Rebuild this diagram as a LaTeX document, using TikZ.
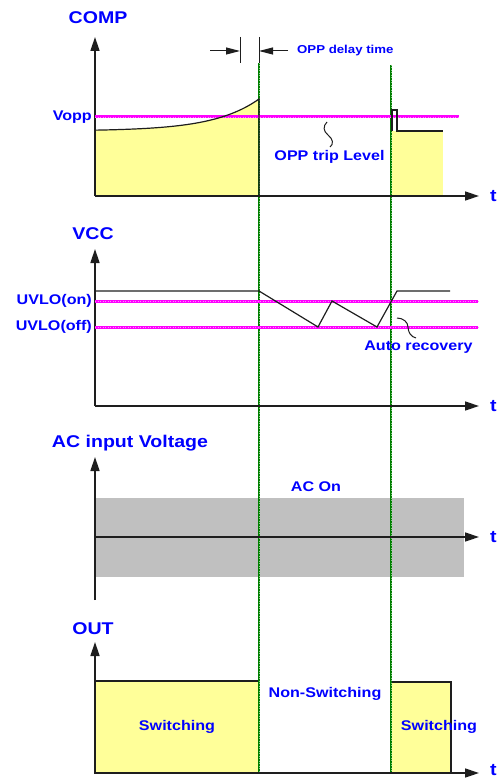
\documentclass[tikz,border=0pt]{standalone}
\usepackage{fontspec}
\setmainfont{Liberation Sans}[FakeStretch=1.15]
\usepackage{xcolor}
\usepackage{tikz}
\usetikzlibrary{arrows.meta}
\definecolor{lblblue}{RGB}{0,0,255}
\definecolor{levelmag}{RGB}{255,0,255}
\definecolor{markgreen}{RGB}{0,128,0}
\definecolor{swyellow}{RGB}{255,255,153}
\definecolor{acgray}{RGB}{192,192,192}
\definecolor{sigcol}{RGB}{30,30,30}

\tikzset{
  axis/.style={line width=1.5pt, sigcol, -{Triangle[length=14pt,width=9pt]}},
  thrline/.style={levelmag, line width=3pt,
    postaction={draw, levelmag!45, line width=0.8pt, dash pattern=on 1pt off 1.5pt}},
  marker/.style={markgreen, line width=2.2pt,
    postaction={draw, markgreen!45, line width=0.6pt, dash pattern=on 1pt off 1.5pt}},
  sig/.style={line width=1.2pt, sigcol},
  biglbl/.style={lblblue, inner sep=0pt, font=\fontsize{17}{20}\selectfont\bfseries},
  lbl/.style={lblblue, inner sep=0pt, font=\fontsize{14}{16}\selectfont\bfseries},
  smalllbl/.style={lblblue, inner sep=0pt, font=\fontsize{11.5}{13}\selectfont\bfseries},
}

\begin{document}
\begin{tikzpicture}[x=1pt, y=-1pt]
  \useasboundingbox (0,0) rectangle (497,778);

  %% OUT boxes (under the markers)
  \filldraw[swyellow, draw=sigcol, line width=1.2pt] (95,681) rectangle (259,773);
  \filldraw[swyellow, draw=sigcol, line width=1.2pt] (391,682) rectangle (451,773);

  %% AC band
  \fill[acgray] (95,498) rectangle (464,577);

  %% COMP fills
  \fill[swyellow] (95,196)
    -- plot[domain=95:259, samples=60] (\x, {131-32*exp((\x-259)/45)})
    -- (259,196) -- cycle;
  \fill[swyellow] (392,196) rectangle (443,131);

  %% green markers
  \draw[marker] (259,63) -- (259,773);
  \draw[marker] (391,65) -- (391,773);

  %% COMP
  \node[biglbl] (comp) at (98,18) {COMP};
  \draw[axis] (95,196) -- (95,37);
  \draw[axis] (95,196) -- (479,196);
  \node[biglbl, anchor=west] (tcomp) at (490,196) {t};
  \draw[thrline] (95,117) -- (459,117);
  \node[lbl, anchor=east] (vopp) at (92,117) {Vopp};
  \draw[sig] plot[domain=95:259, samples=60] (\x, {131-32*exp((\x-259)/45)})
    -- (259,196);
  \draw[sig] (392,131) -- (392,110) -- (397,110) -- (397,131) -- (443,131);

  \draw[sig, line width=1pt] (240,37) -- (240,63);
  \draw[sig, line width=1pt] (259,37) -- (259,63);
  \draw[sig, line width=1pt, -{Triangle[length=14pt,width=7pt]}] (210,51) -- (240,51);
  \draw[sig, line width=1pt, -{Triangle[length=14pt,width=7pt]}] (288,51) -- (259,51);
  \node[smalllbl, anchor=west] (delay) at (297,51) {OPP delay time};

  \node[lbl] (trip) at (329.5,157) {OPP trip Level};
  \draw[sig, line width=1pt] (327,122) .. controls (323,126) and (323,131) .. (328,135)
    .. controls (333,139) and (334,144) .. (330,147);

  %% VCC
  \node[biglbl] (vcc) at (93,234) {VCC};
  \draw[axis] (95,406) -- (95,249);
  \draw[axis] (95,406) -- (479,406);
  \node[biglbl, anchor=west] (tvcc) at (490,406) {t};
  \draw[thrline] (95,301) -- (478,301);
  \draw[thrline] (95,327) -- (478,327);
  \node[lbl, anchor=east] (uvloon) at (92,301) {UVLO(on)};
  \node[lbl, anchor=east] (uvlooff) at (92,327) {UVLO(off)};
  \draw[sig] (95,291) -- (259,291) -- (318,327) -- (332,301)
    -- (377,327) -- (397,291) -- (450,291);
  \node[lbl] (auto) at (418.5,347) {Auto recovery};
  \draw[sig, line width=1pt] (397,318) .. controls (403,318) and (408,322) .. (408,327)
    .. controls (408,332) and (411,337) .. (416,338);

  %% AC input
  \node[biglbl] (acin) at (130,443) {AC input Voltage};
  \draw[axis] (95,600) -- (95,457);
  \draw[axis] (95,537) -- (479,537);
  \node[biglbl, anchor=west] (tac) at (490,537) {t};
  \node[lbl] (acon) at (316,487) {AC On};

  %% OUT
  \node[biglbl] (out) at (93,629) {OUT};
  \draw[axis] (95,773) -- (95,642);
  \draw[axis] (95,773) -- (479,773);
  \node[biglbl, anchor=west] (tout) at (490,770) {t};
  \node[lbl] (sw1) at (177,727) {Switching};
  \node[lbl] (nonsw) at (325,694) {Non-Switching};
  \node[lbl] (sw2) at (439,727) {Switching};

\end{tikzpicture}
\end{document}
